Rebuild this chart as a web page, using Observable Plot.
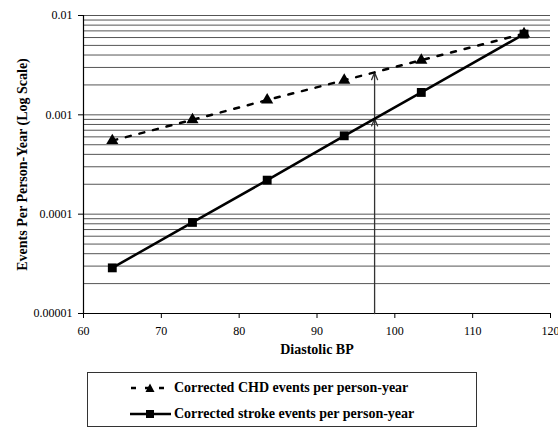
<!DOCTYPE html>
<html>
<head>
<meta charset="utf-8">
<script src="https://cdn.jsdelivr.net/npm/d3@7"></script>
<script src="https://cdn.jsdelivr.net/npm/@observablehq/plot@0.6"></script>
<style>
  body { margin: 0; background: #fff; font-family: "Liberation Serif", serif; }
  #wrap { position: relative; width: 558px; height: 432px; }
  #chart svg [aria-label="x-axis label"], #chart svg [aria-label="y-axis label"] { font-weight: bold; font-size: 14px; }
  #legend { position: absolute; left: 87px; top: 372px; width: 390px; height: 55px; border: 1px solid #333; box-sizing: border-box; }
  .row { position: absolute; left: 42px; height: 20px; display: flex; align-items: center; font-weight: bold; font-size: 14px; color: #000; }
  .row svg { margin-right: 3px; }
</style>
</head>
<body>
<div id="wrap">
  <div id="chart"></div>
  <div id="legend">
    <div class="row" style="top:5px">
      <svg width="41" height="14"><line x1="1" y1="7" x2="40" y2="7" stroke="#000" stroke-width="2.5" stroke-dasharray="5,9"/><path d="M20,2.5 L24.5,11 L15.5,11 Z" fill="#000"/></svg>
      <span>Corrected CHD events per person-year</span>
    </div>
    <div class="row" style="top:31px">
      <svg width="41" height="14"><line x1="0" y1="7" x2="41" y2="7" stroke="#000" stroke-width="2.5"/><rect x="16" y="3" width="8" height="8" fill="#000"/></svg>
      <span>Corrected stroke events per person-year</span>
    </div>
  </div>
</div>
<script>
// Data
const bpX = [63.7, 74.0, 83.6, 93.5, 103.4, 116.6];
const chdRate = [0.00055, 0.00089, 0.00141, 0.00223, 0.00355, 0.00656];
const strokeRate = [0.0000288, 0.0000826, 0.00022, 0.000615, 0.00168, 0.0065];

const xTicks = [60, 70, 80, 90, 100, 110, 120];
const yTicks = [0.00001, 0.0001, 0.001, 0.01];
const yTickLabels = ["0.00001", "0.0001", "0.001", "0.01"];

const gridDecades = [0.00001, 0.0001, 0.001];
const gridMantissas = [1, 2, 3, 4, 5, 6, 7, 8, 9];

// vertical arrow at a diastolic BP of ~97.4
const arrowBP = 97.4;
const arrowStops = [0.00001, 0.000914, 0.00267];

const chd = bpX.map((x, i) => ({x, y: chdRate[i]}));
const strokeData = bpX.map((x, i) => ({x, y: strokeRate[i]}));
const gridValues = gridDecades.flatMap(d => gridMantissas.map(m => +(m * d).toPrecision(3))).concat([0.01]);
const arrows = arrowStops.slice(1).map((y2, i) => ({x: arrowBP, y1: arrowStops[i], y2}));

const chart = Plot.plot({
  width: 558,
  height: 368,
  marginLeft: 83,
  marginRight: 8,
  marginTop: 15,
  marginBottom: 55,
  style: {fontFamily: "Liberation Serif", fontSize: "12px", color: "#000", background: "#fff"},
  x: {domain: [60, 120], ticks: xTicks, label: "Diastolic BP", labelAnchor: "center", labelArrow: "none", labelOffset: 40, tickSize: 5, tickPadding: 8},
  y: {type: "log", domain: [0.00001, 0.01], ticks: yTicks, tickFormat: d => yTickLabels[yTicks.indexOf(d)],
      label: "Events Per Person-Year (Log Scale)", labelAnchor: "center", labelArrow: "none", labelOffset: 66, tickSize: 5, tickPadding: 6},
  marks: [
    Plot.ruleY(gridValues, {stroke: "#555", strokeWidth: 1}),
    Plot.ruleX([60], {stroke: "#000", strokeWidth: 1.2}),
    Plot.ruleY([0.00001], {stroke: "#000", strokeWidth: 1.2}),
    Plot.arrow(arrows, {x1: "x", y1: "y1", x2: "x", y2: "y2", stroke: "#333", strokeWidth: 1.3, headLength: 9, headAngle: 45}),
    Plot.line(chd, {x: "x", y: "y", stroke: "#000", strokeWidth: 2.5, strokeDasharray: "5,9"}),
    Plot.line(strokeData, {x: "x", y: "y", stroke: "#000", strokeWidth: 2.5}),
    Plot.dot(chd, {x: "x", y: "y", symbol: "triangle", r: 4.5, fill: "#000", stroke: "none"}),
    Plot.dot(strokeData, {x: "x", y: "y", symbol: "square", r: 5, fill: "#000", stroke: "none"})
  ]
});
document.getElementById("chart").appendChild(chart);
</script>
</body>
</html>
